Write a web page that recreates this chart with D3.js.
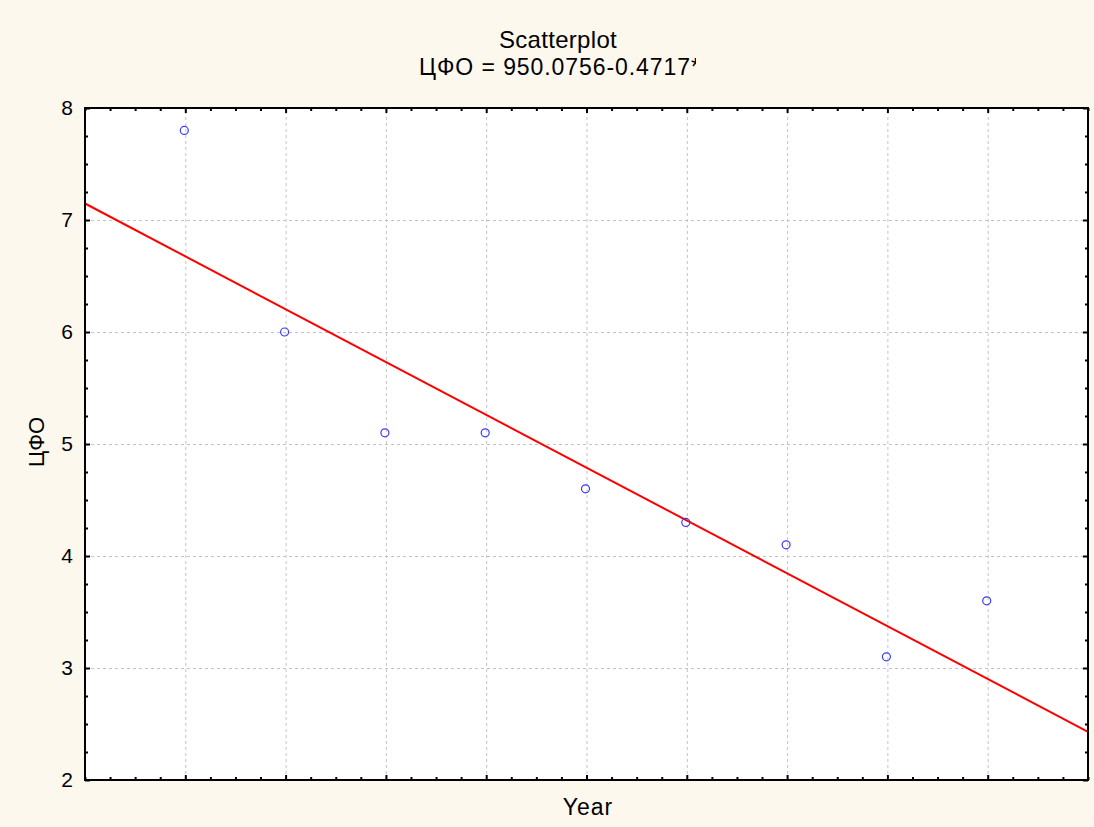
<!DOCTYPE html>
<html>
<head>
<meta charset="utf-8">
<script src="https://cdn.jsdelivr.net/npm/d3@7"></script>
<style>
  html, body { margin: 0; padding: 0; background: #fdf8ee; }
  svg { display: block; }
  text { font-family: "Liberation Sans", Arial, sans-serif; fill: #000; }
</style>
</head>
<body>
<svg id="chart" width="1094" height="827"></svg>
<script>
// Observed values
const years = [2000, 2001, 2002, 2003, 2004, 2005, 2006, 2007, 2008];
const cfo = [7.8, 6.0, 5.1, 5.1, 4.6, 4.3, 4.1, 3.1, 3.6];
const yTicks = [2, 3, 4, 5, 6, 7, 8];
const xDomain = [1999, 2009];
const yDomain = [2, 8];
// Regression: ЦФО = 950.0756 - 0.4717 * Year
const intercept = 950.0756;
const slope = -0.4717;
const titleText = "Scatterplot";
const equationShown = "ЦФО = 950.0756-0.4717";
const equationText = equationShown + "*x";
const xLabel = "Year";
const yLabel = "ЦФО";

const svg = d3.select("#chart");
const W = 1094, H = 827;
const m = { left: 85, right: 6, top: 108, bottom: 47 };
const pw = W - m.left - m.right, ph = H - m.top - m.bottom;

svg.append("rect").attr("width", W).attr("height", H).attr("fill", "#fdf8ee");

const g = svg.append("g").attr("transform", `translate(${m.left},${m.top})`);
g.append("rect").attr("width", pw).attr("height", ph).attr("fill", "#ffffff");

const x = d3.scaleLinear().domain(xDomain).range([0, pw]);
const y = d3.scaleLinear().domain(yDomain).range([ph, 0]);

// dashed grid
const gridX = g.append("g").attr("transform", `translate(0,${ph})`)
  .call(d3.axisBottom(x).tickValues(years).tickSize(-ph).tickFormat(""));
const gridY = g.append("g")
  .call(d3.axisLeft(y).tickValues(yTicks).tickSize(-pw).tickFormat(""));
[gridX, gridY].forEach(s => {
  s.select(".domain").remove();
  s.selectAll("line").attr("stroke", "#c4c4c4").attr("stroke-dasharray", "3,3").attr("stroke-width", 1);
});

// clip for plotted content
g.append("clipPath").attr("id", "plotclip")
  .append("rect").attr("width", pw).attr("height", ph);

// regression line
const lineData = xDomain.map(v => ({ x: v, y: intercept + slope * v }));
g.append("path")
  .datum(lineData)
  .attr("clip-path", "url(#plotclip)")
  .attr("fill", "none")
  .attr("stroke", "#ff0000")
  .attr("stroke-width", 2)
  .attr("d", d3.line().x(d => x(d.x)).y(d => y(d.y)));

// points
g.append("g").selectAll("circle")
  .data(years.map((yr, i) => ({ yr, v: cfo[i] })))
  .join("circle")
  .attr("cx", d => x(d.yr) - 1)
  .attr("cy", d => y(d.v))
  .attr("r", 4)
  .attr("fill", "none")
  .attr("stroke", "#3a3aff")
  .attr("stroke-width", 1.2);

// inward ticks on all four sides
const xMinor = d3.range(xDomain[0] * 4, xDomain[1] * 4 + 1).map(v => v / 4).filter(v => !years.includes(v));
const yMinor = d3.range(yDomain[0] * 4, yDomain[1] * 4 + 1).map(v => v / 4).filter(v => !yTicks.includes(v));

function styleTicks(sel) {
  sel.select(".domain").remove();
  sel.selectAll("line").attr("stroke", "#000").attr("stroke-width", 2);
}
// bottom
g.append("g").attr("transform", `translate(0,${ph})`)
  .call(d3.axisBottom(x).tickValues(years).tickSize(-5).tickFormat("")).call(styleTicks);
g.append("g").attr("transform", `translate(0,${ph})`)
  .call(d3.axisBottom(x).tickValues(xMinor).tickSize(-3).tickFormat("")).call(styleTicks);
// top
g.append("g")
  .call(d3.axisTop(x).tickValues(years).tickSize(-5).tickFormat("")).call(styleTicks);
g.append("g")
  .call(d3.axisTop(x).tickValues(xMinor).tickSize(-3).tickFormat("")).call(styleTicks);
// left with labels
const yAxis = g.append("g")
  .call(d3.axisLeft(y).tickValues(yTicks).tickSize(-5).tickPadding(12).tickFormat(d3.format("d")));
yAxis.select(".domain").remove();
yAxis.selectAll("line").attr("stroke", "#000").attr("stroke-width", 2);
yAxis.selectAll("text").attr("font-size", 21).attr("font-family", "'Liberation Sans', Arial, sans-serif").attr("fill", "#000");
g.append("g")
  .call(d3.axisLeft(y).tickValues(yMinor).tickSize(-3).tickFormat("")).call(styleTicks);
// right
g.append("g").attr("transform", `translate(${pw},0)`)
  .call(d3.axisRight(y).tickValues(yTicks).tickSize(-5).tickFormat("")).call(styleTicks);
g.append("g").attr("transform", `translate(${pw},0)`)
  .call(d3.axisRight(y).tickValues(yMinor).tickSize(-3).tickFormat("")).call(styleTicks);

// frame
g.append("rect").attr("width", pw).attr("height", ph)
  .attr("fill", "none").attr("stroke", "#000").attr("stroke-width", 2);

// titles
svg.append("text").attr("x", 558).attr("y", 48).attr("text-anchor", "middle")
  .attr("font-size", 24).attr("letter-spacing", 0.3).text(titleText);

// equation line: the title box is narrower than the full formula, so it is cut
const eqX = 419, eqTarget = 271;
const probe = svg.append("text").attr("font-size", 23).text(equationShown);
const natural = probe.node().getComputedTextLength();
probe.remove();
const spacing = (eqTarget - natural) / (equationShown.length - 1);
const eqClipRight = eqX + eqTarget + 6;
svg.append("clipPath").attr("id", "eqclip")
  .append("rect").attr("x", 0).attr("y", 40).attr("width", eqClipRight).attr("height", 50);
svg.append("text").attr("x", eqX).attr("y", 75).attr("text-anchor", "start")
  .attr("font-size", 23).attr("letter-spacing", spacing)
  .attr("clip-path", "url(#eqclip)").text(equationText);

svg.append("text").attr("x", 588).attr("y", 815).attr("text-anchor", "middle")
  .attr("font-size", 23).attr("letter-spacing", 1).text(xLabel);

svg.append("text")
  .attr("transform", `translate(44,${442}) rotate(-90)`)
  .attr("text-anchor", "middle").attr("font-size", 22).text(yLabel);
</script>
</body>
</html>
